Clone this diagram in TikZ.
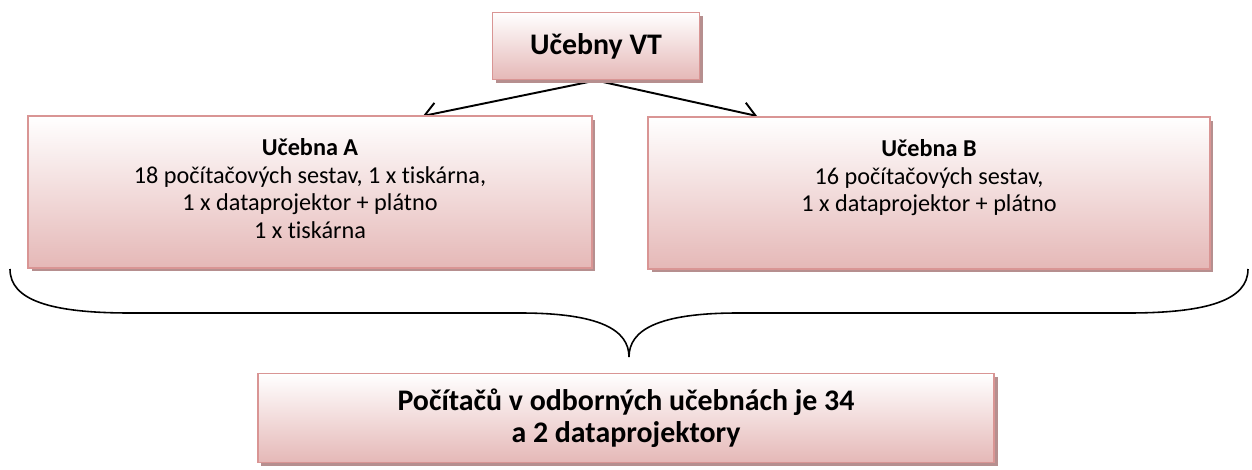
\documentclass[tikz,border=0pt]{standalone}
\usepackage{fontspec}
\setmainfont{Carlito}[Ligatures=NoCommon]
\usepackage{tikz}
\usetikzlibrary{positioning, arrows.meta, shadows, backgrounds}

\definecolor{boxline}{RGB}{217,149,148}
\definecolor{boxtop}{RGB}{255,255,255}
\definecolor{boxbot}{RGB}{229,184,183}
\definecolor{boxshadow}{RGB}{182,143,143}

\tikzset{
  box/.style={draw=boxline, line width=1.1pt, top color=boxtop, bottom color=boxbot,
    drop shadow={shadow xshift=0.07cm, shadow yshift=-0.07cm, fill=boxshadow, opacity=1}},
  boxtext/.style={inner sep=0pt, align=center, font=\fontsize{13.8}{15.8}\selectfont},
  link/.style={-{Straight Barb[length=7pt,width=12pt]}, line width=1.1pt},
  brace/.style={line width=0.9pt},
}

\begin{document}
\begin{tikzpicture}[x=0.02cm, y=-0.02cm]
        \useasboundingbox (0,0) rectangle (1252,470);

        \node[box, minimum width=4.14cm, minimum height=1.34cm] at (596,46) (vt) {\fontsize{17}{20}\selectfont\bfseries Učebny VT};
        \node[box, minimum width=11.28cm, minimum height=3.04cm] at (310,192) (ucA) {};
        \node[box, minimum width=11.24cm, minimum height=3.04cm] at (929,193) (ucB) {};
        \node[box, minimum width=14.74cm, minimum height=1.78cm, align=center,
              font=\fontsize{17}{18}\selectfont\bfseries] at (626,418) (sum)
            {Počítačů v odborných učebnách je 34\\a 2 dataprojektory};
        \node[boxtext, below=0.46cm of ucA.north] (txtA)
            {\textbf{Učebna A}\\18 počítačových sestav, 1 x tiskárna,\\1 x dataprojektor + plátno\\1 x tiskárna};
        \node[boxtext, below=0.46cm of ucB.north] (txtB)
            {\textbf{Učebna B}\\16 počítačových sestav,\\1 x dataprojektor + plátno};

        \coordinate (tipA) at (423,116);
        \coordinate (tipB) at (757,116);
        \begin{scope}[on background layer]
            \draw[link] (vt.south) -- (tipA);
            \draw[link] (vt.south) -- (tipB);
        \end{scope}

        % curly brace under the two rooms
        \coordinate (braceL) at (10,269);
        \coordinate (braceR) at (1248,269);
        \coordinate (braceTip) at (629,357);
        \draw[brace] (braceL) .. controls (10,300) and (50,313) .. (130,313) -- (520,313)
            .. controls (600,313) and (629,330) .. (braceTip)
            .. controls (629,330) and (658,313) .. (738,313) -- (1128,313)
            .. controls (1208,313) and (1248,300) .. (braceR);
    \end{tikzpicture}
\end{document}
